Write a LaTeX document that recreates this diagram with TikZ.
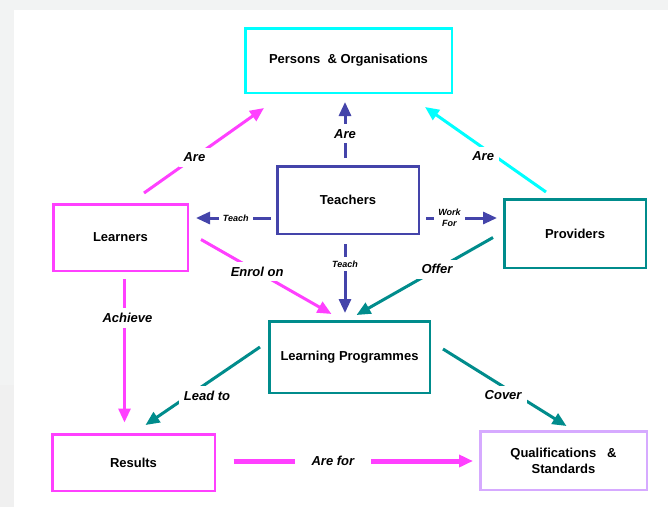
\documentclass[tikz,border=0pt]{standalone}
\usepackage{fontspec}
\setmainfont{Liberation Sans}
\usetikzlibrary{arrows.meta,positioning,calc}
\definecolor{pinkline}{RGB}{255,64,255}
\definecolor{cyanline}{RGB}{0,255,255}
\definecolor{tealline}{RGB}{0,140,140}
\definecolor{blueline}{RGB}{68,68,170}
\definecolor{lilacline}{RGB}{214,170,255}
\definecolor{pagegray}{RGB}{242,243,243}
\tikzset{
	>={Triangle[length=14pt,width=12pt]}, % filled heads
	box/.style={draw, line width=2.5pt, fill=white, text=black,
		font=\fontsize{13}{16}\selectfont\bfseries},
	lbl/.style={fill=white, text=black, inner sep=5pt,
		font=\fontsize{13}{15}\selectfont\bfseries\itshape},
	smalllbl/.style={fill=white, text=black, inner sep=4pt, align=center,
		font=\fontsize{9}{11}\selectfont\bfseries\itshape},
	link/.style={->, line width=3pt},
}
\begin{document}
\begin{tikzpicture}[x=1pt, y=-1pt]
	\useasboundingbox (0,0) rectangle (668,507);
	\fill[pagegray] (0,0) rectangle (668,507);
	\fill[gray!12] (0,385) rectangle (14,507);
	\fill[white] (14,10) rectangle (668,507);

	% boxes
	\node[box, draw=cyanline, minimum width=206.5pt, minimum height=64.5pt] (per) at (348.5,60.5) {Persons\ \ \& Organisations\hspace{10pt}};
	\node[box, draw=blueline, minimum width=141.5pt, minimum height=67.5pt] (tch) at (348,200) {Teachers};
	\node[box, draw=pinkline, minimum width=134.5pt, minimum height=66.5pt] (lrn) at (120.5,237.5) {Learners};
	\node[box, draw=tealline, minimum width=141.5pt, minimum height=68.5pt] (prv) at (575,233.5) {Providers};
	\node[box, draw=tealline, minimum width=160.5pt, minimum height=71.5pt] (lp) at (349.5,357) {Learning Programmes\hspace{20pt}};
	\node[box, draw=pinkline, minimum width=162.5pt, minimum height=56.5pt] (res) at (133.5,462.5) {Results\hspace{24pt}};
	\node[box, draw=lilacline, minimum width=166.5pt, minimum height=58.5pt, align=center] (qs) at (563.5,460.5) {Qualifications\ \ \ \&\\Standards\hspace{10pt}};

	% links
	\draw[link, pinkline] ($(lrn.north)+(23.5,-10)$) -- node[lbl, pos=0.42] {Are} ($(per.south west)+(20,14)$);
	\draw[link, blueline] ($(tch.north)+(-3,-7)$) -- node[lbl, pos=0.43] {Are} ($(per.south)+(-3.5,8)$);
	\draw[link, cyanline] ($(prv.north)+(-29,-6)$) -- node[lbl, pos=0.42, xshift=-12pt] {Are} ($(per.south east)+(-28,13)$);
	\draw[link, blueline] ($(tch.west)+(-5,18)$) -- node[smalllbl, pos=0.47] {Teach} ($(lrn.east)+(7,-19.5)$);
	\draw[link, blueline] ($(tch.east)+(6,18)$) -- node[smalllbl, pos=0.33] {Work\\For} ($(prv.west)+(-6,-15.5)$);
	\draw[link, blueline] ($(tch.south)+(-3,9)$) -- node[smalllbl, pos=0.29] {Teach} ($(lp.north)+(-4.5,-7)$);
	\draw[link, pinkline] ($(lrn.east)+(12,2)$) -- node[lbl, pos=0.43] {Enrol on} ($(lp.north)+(-18,-6)$);
	\draw[link, tealline] ($(prv.west)+(-10,4)$) -- node[lbl, pos=0.41] {Offer} ($(lp.north)+(7,-5)$);
	\draw[link, pinkline] ($(lrn.south)+(4,7)$) -- node[lbl, pos=0.27, xshift=3pt] {Achieve} ($(res.north)+(-9,-10.5)$);
	\draw[link, tealline] ($(lp.west)+(-8,-10)$) -- node[lbl, pos=0.62, xshift=18pt] {Lead to} ($(res.north)+(12,-8)$);
	\draw[link, tealline] ($(lp.east)+(12,-8)$) -- node[lbl, pos=0.6, xshift=-14pt] {Cover} ($(qs.north)+(3,-4)$);
	\draw[link, pinkline, line width=5pt] ($(res.east)+(17.5,-1.5)$) -- node[lbl, pos=0.415, inner xsep=17pt] {Are for} ($(qs.west)+(-6,0.5)$);
\end{tikzpicture}
\end{document}
